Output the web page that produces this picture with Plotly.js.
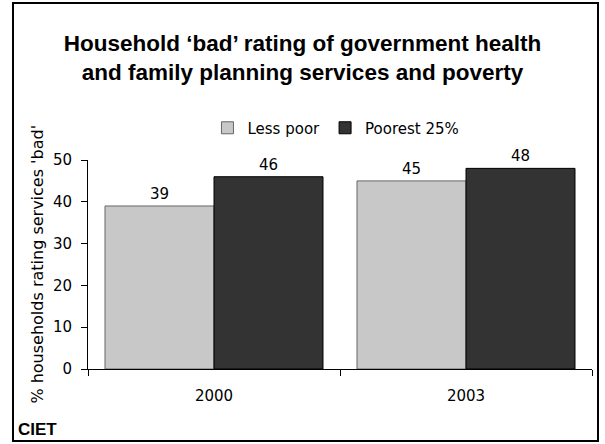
<!DOCTYPE html>
<html>
<head>
<meta charset="utf-8">
<script src="https://cdn.plot.ly/plotly-3.0.1.min.js"></script>
<style>
html,body{margin:0;padding:0;background:#fff;}
#frame{position:absolute;left:12px;top:2px;width:583px;height:436px;border:2px solid #000;}
#chart{position:absolute;left:0;top:0;width:605px;height:444px;}
</style>
</head>
<body>
<div id="chart"></div>
<div id="frame"></div>
<script>
const categories = ['2000', '2003'];
const seriesNames = ['Less poor', 'Poorest 25%'];
const lessPoor = [39, 45];
const poorest25 = [46, 48];
const yTicks = [0, 10, 20, 30, 40, 50];
const yTitle = "% households rating services 'bad'";

const font = 'DejaVu Sans, Verdana, sans-serif';
const traces = [
  {type:'bar', name:seriesNames[0], x:categories, y:lessPoor, text:lessPoor.map(String),
   textposition:'outside', cliponaxis:false, textfont:{family:font,size:15,color:'#000'},
   marker:{color:'#C8C8C8', line:{color:'#666666', width:1}}},
  {type:'bar', name:seriesNames[1], x:categories, y:poorest25, text:poorest25.map(String),
   textposition:'outside', cliponaxis:false, textfont:{family:font,size:15,color:'#000'},
   marker:{color:'#333333', line:{color:'#000000', width:1}}}
];
const layout = {
  width:605, height:444,
  margin:{l:88, r:13, t:160, b:75},
  paper_bgcolor:'rgba(0,0,0,0)', plot_bgcolor:'#fff',
  barmode:'group', bargap:0.135, bargroupgap:0,
  showlegend:true,
  title:{text:'<b>Household ‘bad’ rating of government health<br>and family planning services and poverty</b>',
    font:{family:'Liberation Sans, Arial, sans-serif', size:22.5, color:'#000'},
    x:0.5, xref:'container', xanchor:'center', y:0.885, yref:'container', yanchor:'middle'},
  legend:{orientation:'h', x:0.492, xanchor:'center', y:1.153, yanchor:'middle',
    font:{family:font, size:15, color:'#000'}, bgcolor:'rgba(0,0,0,0)', itemwidth:30, traceorder:'normal'},
  xaxis:{type:'category', showline:true, linecolor:'#000', linewidth:1, ticks:'outside', tickson:'boundaries',
    ticklen:6, tickcolor:'#000', showgrid:false, tickfont:{family:font, size:15, color:'#000'}, ticklabelstandoff:13},
  yaxis:{range:[0,50], tickvals:yTicks, showline:true, linecolor:'#000', linewidth:1, ticks:'outside', ticklen:6,
    tickcolor:'#000', showgrid:false, zeroline:false, tickfont:{family:font, size:15, color:'#000'}, ticklabelstandoff:6,
    automargin:false},
  annotations:[
    {text:yTitle, textangle:-90, xref:'paper', yref:'paper', x:-0.101, y:0.5, xanchor:'center', yanchor:'middle',
     showarrow:false, font:{family:font, size:16, color:'#000'}},
    {text:'<b>CIET</b>', xref:'paper', yref:'paper', x:-0.142, y:-0.29, xanchor:'left', yanchor:'middle',
    showarrow:false, font:{family:'Liberation Sans, Arial, sans-serif', size:17, color:'#000'}}]
};
Plotly.newPlot('chart', traces, layout, {displayModeBar:false, staticPlot:true});
</script>
</body>
</html>
